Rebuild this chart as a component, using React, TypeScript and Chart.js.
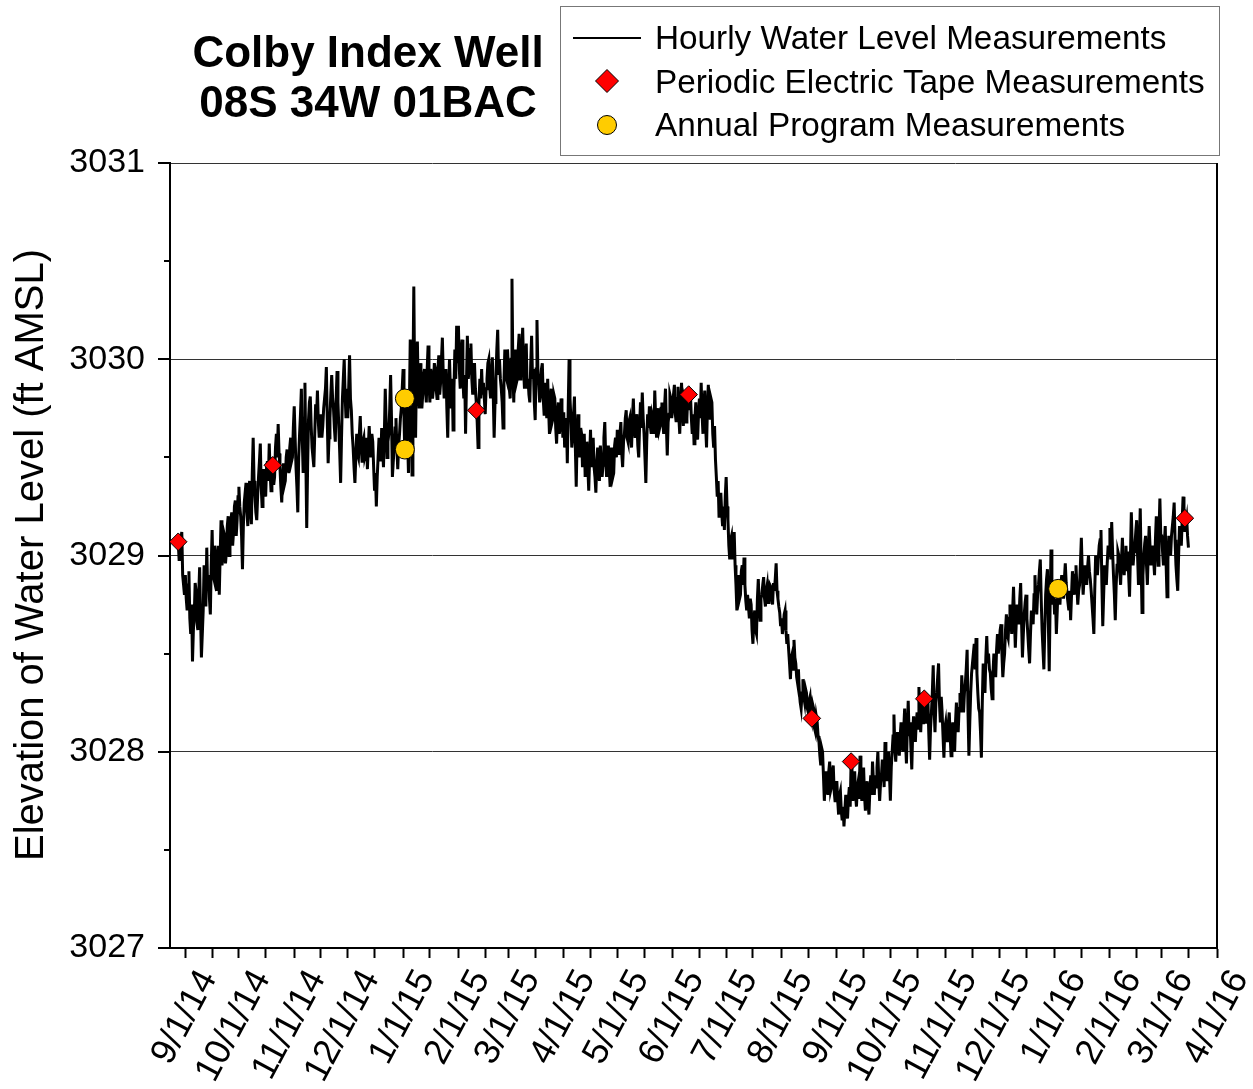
import React, { useEffect, useRef } from 'react';
import { Chart, registerables } from 'chart.js';

Chart.register(...registerables);

const FONT = "'Liberation Sans', Arial, Helvetica, sans-serif";
const DAY = 86400000;
const parseDate = (s: string) => {
  const [m, d, y] = s.split('/').map(Number);
  return Date.UTC(2000 + y, m - 1, d);
};

// Axis tick labels
const xTickLabels = [
  '9/1/14', '10/1/14', '11/1/14', '12/1/14', '1/1/15', '2/1/15', '3/1/15', '4/1/15', '5/1/15', '6/1/15',
  '7/1/15', '8/1/15', '9/1/15', '10/1/15', '11/1/15', '12/1/15', '1/1/16', '2/1/16', '3/1/16', '4/1/16',
];
const yTickLabels = [3027, 3028, 3029, 3030, 3031];
const xMinDate = '8/23/14';
const xMaxDate = '4/1/16';

// Periodic electric tape measurements
const etDates = ['8/28/14', '10/20/14', '2/11/15', '6/10/15', '8/18/15', '9/9/15', '10/20/15', '3/14/16'];
const etLevels = [3029.07, 3029.46, 3029.74, 3029.82, 3028.17, 3027.95, 3028.27, 3029.19];

// Annual program measurements
const annualDates = ['1/2/15', '1/2/15', '1/3/16'];
const annualLevels = [3029.8, 3029.54, 3028.83];

// Water level record, by month: midnight readings (...Am) and midday readings (...Pm)
const levelAug14Am = [3029.07, 3029.02, 3029.12, 3028.85];
const levelAug14Pm = [3028.98, 3029.08, 3028.9, 3028.8];
const levelSep14Am = [3028.9, 3028.72, 3028.92, 3028.6, 3028.46, 3028.7, 3028.82, 3028.62, 3028.94, 3028.48, 3028.72, 3028.85, 3029.04, 3028.9, 3028.7, 3029.13, 3028.88, 3029.0, 3028.92, 3028.8, 3029.18, 3028.98, 3029.1, 3029.02, 3029.2, 3029.1, 3029.22, 3029.12, 3029.28, 3029.18];
const levelSep14Pm = [3028.78, 3028.85, 3028.68, 3028.75, 3028.62, 3028.86, 3028.66, 3028.8, 3028.7, 3028.6, 3028.95, 3028.74, 3028.82, 3028.78, 3028.95, 3028.9, 3029.05, 3028.82, 3029.05, 3029.0, 3028.95, 3029.12, 3028.96, 3029.15, 3029.0, 3029.18, 3029.05, 3029.25, 3029.1, 3029.3];
const levelOct14Am = [3029.35, 3029.2, 3028.93, 3029.27, 3029.37, 3029.15, 3029.38, 3029.16, 3029.6, 3029.3, 3029.18, 3029.4, 3029.57, 3029.25, 3029.44, 3029.3, 3029.48, 3029.57, 3029.33, 3029.46, 3029.4, 3029.62, 3029.67, 3029.45, 3029.27, 3029.47, 3029.38, 3029.54, 3029.42, 3029.6, 3029.5];
const levelOct14Pm = [3029.25, 3029.1, 3029.15, 3029.32, 3029.22, 3029.3, 3029.24, 3029.42, 3029.38, 3029.22, 3029.3, 3029.48, 3029.35, 3029.38, 3029.35, 3029.45, 3029.38, 3029.42, 3029.5, 3029.36, 3029.55, 3029.5, 3029.52, 3029.35, 3029.4, 3029.36, 3029.5, 3029.45, 3029.55, 3029.48, 3029.65];
const levelNov14Am = [3029.76, 3029.45, 3029.22, 3029.62, 3029.85, 3029.42, 3029.88, 3029.14, 3029.69, 3029.81, 3029.55, 3029.45, 3029.77, 3029.84, 3029.6, 3029.72, 3029.66, 3029.8, 3029.96, 3029.47, 3029.7, 3029.92, 3029.75, 3029.58, 3029.94, 3029.65, 3029.37, 3029.8, 3030.0, 3029.7];
const levelNov14Pm = [3029.6, 3029.35, 3029.5, 3029.72, 3029.6, 3029.7, 3029.5, 3029.45, 3029.78, 3029.66, 3029.5, 3029.62, 3029.7, 3029.68, 3029.7, 3029.6, 3029.75, 3029.85, 3029.7, 3029.6, 3029.82, 3029.8, 3029.65, 3029.8, 3029.78, 3029.52, 3029.6, 3029.9, 3029.82, 3029.85];
const levelDec14Am = [3029.7, 3030.02, 3029.74, 3029.55, 3029.37, 3029.62, 3029.5, 3029.71, 3029.48, 3029.6, 3029.52, 3029.44, 3029.66, 3029.5, 3029.58, 3029.33, 3029.25, 3029.5, 3029.55, 3029.65, 3029.45, 3029.85, 3029.5, 3029.62, 3029.92, 3029.4, 3029.55, 3029.7, 3029.44, 3029.62, 3029.75];
const levelDec14Pm = [3029.85, 3029.8, 3029.62, 3029.45, 3029.5, 3029.52, 3029.62, 3029.56, 3029.58, 3029.5, 3029.6, 3029.55, 3029.56, 3029.62, 3029.45, 3029.42, 3029.4, 3029.6, 3029.48, 3029.55, 3029.62, 3029.68, 3029.58, 3029.75, 3029.7, 3029.48, 3029.65, 3029.55, 3029.56, 3029.7, 3029.85];
const levelJan15Am = [3029.95, 3029.5, 3029.8, 3029.42, 3030.1, 3029.41, 3030.37, 3029.6, 3030.09, 3029.75, 3029.9, 3029.82, 3029.95, 3029.78, 3030.07, 3029.78, 3029.92, 3029.85, 3029.95, 3029.8, 3030.02, 3029.88, 3030.11, 3029.8, 3029.95, 3029.6, 3030.0, 3029.75, 3029.64, 3030.05, 3030.17];
const levelJan15Pm = [3029.7, 3029.65, 3029.6, 3029.75, 3029.8, 3029.9, 3029.85, 3029.95, 3029.85, 3029.98, 3029.75, 3029.92, 3029.85, 3029.95, 3029.88, 3029.95, 3029.8, 3029.98, 3029.85, 3029.95, 3029.82, 3030.0, 3029.92, 3029.9, 3029.75, 3029.85, 3029.85, 3029.9, 3029.85, 3029.9, 3029.98];
const levelFeb15Am = [3030.17, 3029.85, 3030.1, 3029.8, 3029.62, 3030.12, 3029.95, 3030.08, 3029.82, 3029.98, 3029.78, 3029.55, 3029.9, 3029.95, 3029.88, 3029.72, 3029.9, 3030.0, 3029.8, 3030.01, 3029.6, 3029.9, 3030.15, 3030.0, 3029.85, 3029.65, 3030.05, 3029.9];
const levelFeb15Pm = [3029.95, 3030.02, 3029.9, 3029.92, 3029.88, 3029.9, 3030.05, 3029.9, 3029.95, 3029.85, 3029.68, 3029.78, 3029.8, 3029.82, 3029.8, 3029.85, 3029.98, 3029.86, 3029.92, 3029.82, 3029.78, 3030.05, 3029.92, 3029.9, 3029.78, 3029.88, 3029.92, 3030.05];
const levelMar15Am = [3029.95, 3029.8, 3030.41, 3029.78, 3030.05, 3029.9, 3030.13, 3029.95, 3030.16, 3029.85, 3030.08, 3029.9, 3029.78, 3030.12, 3029.95, 3029.69, 3030.2, 3029.88, 3029.82, 3029.98, 3029.72, 3029.78, 3029.9, 3029.62, 3029.85, 3029.7, 3029.8, 3029.57, 3029.78, 3029.65, 3029.75];
const levelMar15Pm = [3029.85, 3030.0, 3029.95, 3029.98, 3029.88, 3030.05, 3029.9, 3030.05, 3029.95, 3030.0, 3029.85, 3029.82, 3029.98, 3029.9, 3029.78, 3029.95, 3029.95, 3029.78, 3029.95, 3029.8, 3029.88, 3029.7, 3029.75, 3029.8, 3029.68, 3029.82, 3029.65, 3029.72, 3029.62, 3029.8, 3029.6];
const levelApr15Am = [3029.73, 3029.6, 3029.47, 3030.0, 3029.7, 3029.6, 3029.81, 3029.35, 3029.72, 3029.5, 3029.62, 3029.55, 3029.4, 3029.58, 3029.33, 3029.64, 3029.52, 3029.45, 3029.32, 3029.55, 3029.38, 3029.5, 3029.46, 3029.68, 3029.4, 3029.56, 3029.35, 3029.5, 3029.42, 3029.6];
const levelApr15Pm = [3029.55, 3029.7, 3029.75, 3029.8, 3029.55, 3029.72, 3029.55, 3029.6, 3029.55, 3029.65, 3029.45, 3029.62, 3029.52, 3029.45, 3029.5, 3029.45, 3029.6, 3029.4, 3029.48, 3029.42, 3029.56, 3029.4, 3029.6, 3029.5, 3029.52, 3029.44, 3029.55, 3029.4, 3029.56, 3029.5];
const levelMay15Am = [3029.64, 3029.52, 3029.68, 3029.45, 3029.62, 3029.74, 3029.58, 3029.7, 3029.55, 3029.8, 3029.6, 3029.68, 3029.5, 3029.78, 3029.83, 3029.62, 3029.37, 3029.72, 3029.76, 3029.62, 3029.7, 3029.84, 3029.6, 3029.75, 3029.66, 3029.78, 3029.62, 3029.85, 3029.51, 3029.72, 3029.8];
const levelMay15Pm = [3029.55, 3029.62, 3029.52, 3029.58, 3029.7, 3029.6, 3029.68, 3029.6, 3029.7, 3029.65, 3029.72, 3029.56, 3029.66, 3029.65, 3029.7, 3029.5, 3029.58, 3029.65, 3029.66, 3029.72, 3029.62, 3029.7, 3029.72, 3029.64, 3029.75, 3029.68, 3029.76, 3029.66, 3029.68, 3029.82, 3029.7];
const levelJun15Am = [3029.75, 3029.87, 3029.68, 3029.86, 3029.62, 3029.88, 3029.66, 3029.78, 3029.7, 3029.85, 3029.82, 3029.62, 3029.57, 3029.78, 3029.59, 3029.8, 3029.88, 3029.62, 3029.84, 3029.55, 3029.87, 3029.7, 3029.78, 3029.55, 3029.49, 3029.3, 3029.2, 3029.32, 3029.15, 3029.13];
const levelJun15Pm = [3029.82, 3029.72, 3029.8, 3029.7, 3029.78, 3029.74, 3029.8, 3029.68, 3029.82, 3029.74, 3029.7, 3029.72, 3029.7, 3029.66, 3029.72, 3029.7, 3029.72, 3029.76, 3029.66, 3029.75, 3029.74, 3029.8, 3029.62, 3029.66, 3029.4, 3029.38, 3029.28, 3029.22, 3029.25, 3029.3];
const levelJul15Am = [3029.4, 3029.18, 3028.98, 3029.1, 3029.05, 3028.95, 3028.72, 3028.9, 3028.8, 3028.95, 3028.99, 3028.77, 3028.8, 3028.68, 3028.75, 3028.55, 3028.72, 3028.6, 3028.88, 3028.67, 3028.8, 3028.89, 3028.74, 3028.85, 3028.78, 3028.84, 3028.75, 3028.82, 3028.96, 3028.78, 3028.71];
const levelJul15Pm = [3029.25, 3029.05, 3029.08, 3028.98, 3029.12, 3028.85, 3028.85, 3028.78, 3028.92, 3028.85, 3028.85, 3028.72, 3028.74, 3028.78, 3028.62, 3028.68, 3028.62, 3028.78, 3028.75, 3028.78, 3028.85, 3028.78, 3028.82, 3028.76, 3028.85, 3028.78, 3028.86, 3028.88, 3028.82, 3028.74, 3028.64];
const levelAug15Am = [3028.68, 3028.64, 3028.72, 3028.55, 3028.52, 3028.37, 3028.5, 3028.57, 3028.45, 3028.35, 3028.3, 3028.22, 3028.37, 3028.25, 3028.3, 3028.2, 3028.28, 3028.17, 3028.22, 3028.1, 3028.15, 3028.05, 3027.93, 3028.0, 3027.75, 3027.9, 3027.78, 3027.95, 3027.82, 3027.93, 3027.75];
const levelAug15Pm = [3028.6, 3028.7, 3028.62, 3028.6, 3028.45, 3028.48, 3028.42, 3028.48, 3028.38, 3028.42, 3028.25, 3028.3, 3028.28, 3028.32, 3028.22, 3028.26, 3028.2, 3028.24, 3028.12, 3028.18, 3028.08, 3027.98, 3028.02, 3027.88, 3027.85, 3027.82, 3027.9, 3027.8, 3027.9, 3027.8, 3027.82];
const levelSep15Am = [3027.85, 3027.68, 3027.8, 3027.65, 3027.62, 3027.78, 3027.66, 3027.82, 3027.95, 3027.75, 3027.9, 3027.72, 3027.85, 3027.98, 3027.75, 3027.92, 3027.7, 3027.85, 3027.68, 3027.88, 3027.95, 3027.78, 3027.82, 3028.0, 3027.75, 3027.88, 3027.92, 3028.05, 3027.85, 3028.0];
const levelSep15Pm = [3027.75, 3027.78, 3027.7, 3027.72, 3027.7, 3027.7, 3027.76, 3027.72, 3027.82, 3027.85, 3027.78, 3027.82, 3027.76, 3027.85, 3027.85, 3027.78, 3027.8, 3027.74, 3027.8, 3027.78, 3027.85, 3027.88, 3027.92, 3027.85, 3027.84, 3027.96, 3027.82, 3027.92, 3027.95, 3027.88];
const levelOct15Am = [3027.75, 3028.0, 3028.19, 3027.95, 3028.1, 3027.98, 3028.15, 3028.0, 3028.22, 3027.94, 3028.26, 3028.15, 3027.91, 3028.18, 3028.05, 3028.2, 3028.33, 3028.1, 3028.25, 3028.3, 3028.15, 3028.28, 3027.96, 3028.2, 3028.44, 3028.1, 3028.3, 3028.45, 3028.15, 3028.2, 3027.97];
const levelOct15Pm = [3027.92, 3028.08, 3028.02, 3028.05, 3028.02, 3028.08, 3028.05, 3028.12, 3028.05, 3028.12, 3028.08, 3028.02, 3028.1, 3028.1, 3028.15, 3028.12, 3028.2, 3028.22, 3028.14, 3028.2, 3028.25, 3028.1, 3028.12, 3028.3, 3028.22, 3028.25, 3028.38, 3028.25, 3028.28, 3028.08, 3028.12];
const levelNov15Am = [3028.15, 3028.05, 3028.2, 3027.98, 3028.15, 3028.0, 3028.25, 3028.1, 3028.3, 3028.39, 3028.2, 3028.35, 3028.52, 3027.98, 3028.3, 3028.45, 3028.55, 3028.58, 3028.3, 3028.2, 3027.97, 3028.45, 3028.3, 3028.59, 3028.5, 3028.4, 3028.27, 3028.5, 3028.38, 3028.6];
const levelNov15Pm = [3028.08, 3028.15, 3028.08, 3028.1, 3028.06, 3028.15, 3028.16, 3028.22, 3028.2, 3028.28, 3028.3, 3028.42, 3028.2, 3028.15, 3028.4, 3028.5, 3028.42, 3028.4, 3028.22, 3028.1, 3028.25, 3028.36, 3028.48, 3028.45, 3028.42, 3028.32, 3028.4, 3028.42, 3028.52, 3028.5];
const levelDec15Am = [3028.55, 3028.65, 3028.38, 3028.5, 3028.7, 3028.58, 3028.75, 3028.6, 3028.84, 3028.53, 3028.75, 3028.65, 3028.86, 3028.48, 3028.7, 3028.8, 3028.6, 3028.45, 3028.72, 3028.65, 3028.9, 3028.7, 3028.85, 3028.98, 3028.62, 3028.42, 3028.8, 3028.93, 3028.41, 3029.03, 3028.75];
const levelDec15Pm = [3028.62, 3028.5, 3028.45, 3028.62, 3028.6, 3028.68, 3028.66, 3028.72, 3028.68, 3028.65, 3028.68, 3028.78, 3028.66, 3028.6, 3028.76, 3028.68, 3028.52, 3028.6, 3028.68, 3028.8, 3028.78, 3028.8, 3028.92, 3028.78, 3028.52, 3028.62, 3028.88, 3028.66, 3028.75, 3028.85, 3028.82];
const levelJan16Am = [3028.7, 3028.6, 3028.85, 3028.75, 3028.9, 3028.78, 3028.96, 3028.8, 3028.72, 3028.67, 3028.92, 3028.8, 3028.95, 3028.75, 3028.85, 3029.09, 3028.8, 3028.95, 3028.85, 3029.0, 3028.88, 3028.75, 3028.6, 3029.0, 3028.9, 3029.05, 3029.13, 3028.64, 3028.95, 3028.85, 3029.05];
const levelJan16Pm = [3028.78, 3028.72, 3028.8, 3028.84, 3028.82, 3028.88, 3028.86, 3028.76, 3028.82, 3028.8, 3028.85, 3028.9, 3028.84, 3028.82, 3028.96, 3028.92, 3028.88, 3028.9, 3028.94, 3028.92, 3028.82, 3028.68, 3028.82, 3028.94, 3028.98, 3029.08, 3028.86, 3028.8, 3028.9, 3028.96, 3029.0];
const levelFeb16Am = [3029.14, 3029.17, 3028.9, 3028.67, 3028.95, 3029.0, 3028.85, 3029.09, 3028.9, 3029.05, 3029.02, 3028.79, 3029.22, 3028.95, 3029.05, 3029.18, 3028.85, 3029.24, 3028.71, 3029.0, 3029.1, 3028.85, 3029.15, 3028.95, 3029.05, 3028.9, 3029.2, 3028.95, 3029.29];
const levelFeb16Pm = [3028.98, 3029.02, 3028.8, 3028.85, 3029.02, 3028.92, 3028.98, 3028.96, 3029.0, 3028.92, 3028.9, 3029.0, 3029.05, 3029.02, 3029.12, 3029.0, 3029.05, 3028.95, 3028.9, 3029.06, 3028.95, 3029.02, 3029.04, 3029.0, 3028.98, 3029.08, 3029.05, 3029.12, 3029.1];
const levelMar16Am = [3029.1, 3028.95, 3029.15, 3028.79, 3029.1, 3029.0, 3029.15, 3029.27, 3028.95, 3028.82, 3029.15, 3029.05, 3029.3, 3029.12, 3029.19, 3029.04];
const levelMar16Pm = [3029.02, 3029.06, 3028.95, 3028.98, 3029.04, 3029.1, 3029.2, 3029.08, 3028.88, 3029.0, 3029.1, 3029.18, 3029.2, 3029.16, 3029.1];

const levelSegments: [string, number[], number[]][] = [
  ['8/28/14', levelAug14Am, levelAug14Pm], ['9/1/14', levelSep14Am, levelSep14Pm],
  ['10/1/14', levelOct14Am, levelOct14Pm], ['11/1/14', levelNov14Am, levelNov14Pm],
  ['12/1/14', levelDec14Am, levelDec14Pm], ['1/1/15', levelJan15Am, levelJan15Pm],
  ['2/1/15', levelFeb15Am, levelFeb15Pm], ['3/1/15', levelMar15Am, levelMar15Pm],
  ['4/1/15', levelApr15Am, levelApr15Pm], ['5/1/15', levelMay15Am, levelMay15Pm],
  ['6/1/15', levelJun15Am, levelJun15Pm], ['7/1/15', levelJul15Am, levelJul15Pm],
  ['8/1/15', levelAug15Am, levelAug15Pm], ['9/1/15', levelSep15Am, levelSep15Pm],
  ['10/1/15', levelOct15Am, levelOct15Pm], ['11/1/15', levelNov15Am, levelNov15Pm],
  ['12/1/15', levelDec15Am, levelDec15Pm], ['1/1/16', levelJan16Am, levelJan16Pm],
  ['2/1/16', levelFeb16Am, levelFeb16Pm], ['3/1/16', levelMar16Am, levelMar16Pm],
];

const TITLE_1 = 'Colby Index Well';
const TITLE_2 = '08S 34W 01BAC';
const Y_TITLE = 'Elevation of Water Level (ft AMSL)';
const LEGEND = ['Hourly Water Level Measurements', 'Periodic Electric Tape Measurements', 'Annual Program Measurements'];

const RED = '#ff0000';
const YELLOW = '#ffcc00';

const levelPoints: { x: number; y: number }[] = [];
levelSegments.forEach(([start, am, pm]) => {
  const t0 = parseDate(start);
  am.forEach((v, i) => {
    levelPoints.push({ x: t0 + i * DAY, y: v });
    if (pm[i] !== undefined) levelPoints.push({ x: t0 + i * DAY + DAY / 2, y: pm[i] });
  });
});
const etPoints = etDates.map((d, i) => ({ x: parseDate(d), y: etLevels[i] }));
const annualPoints = annualDates.map((d, i) => ({ x: parseDate(d), y: annualLevels[i] }));

const monthTicks = xTickLabels.map(parseDate);
const labelByValue = new Map<number, string>(xTickLabels.map((l) => [parseDate(l), l]));
const midTicks = xTickLabels.slice(0, -1).map((l) => {
  const [m, , y] = l.split('/').map(Number);
  return Date.UTC(2000 + y, m - 1, 16);
});
const allXTicks = [...monthTicks, ...midTicks].sort((a, b) => a - b);

const decorPlugin = {
  id: 'decor',
  afterDraw(chart: any) {
    const { ctx, chartArea: a, scales } = chart;
    const ys = scales.y;
    ctx.save();
    // y-axis tick marks (major + minor)
    ctx.strokeStyle = '#000';
    ctx.lineWidth = 2;
    for (let k = 0; k <= 8; k++) {
      const v = 3027 + k * 0.5;
      const py = Math.round(ys.getPixelForValue(v));
      const len = k % 2 === 0 ? 12 : 6;
      ctx.beginPath();
      ctx.moveTo(a.left - len, py);
      ctx.lineTo(a.left, py);
      ctx.stroke();
    }
    // right frame line
    ctx.beginPath();
    ctx.moveTo(a.right, a.top);
    ctx.lineTo(a.right, a.bottom + 1);
    ctx.stroke();

    // title
    ctx.fillStyle = '#000';
    ctx.font = `bold 44px ${FONT}`;
    ctx.textAlign = 'center';
    ctx.textBaseline = 'alphabetic';
    ctx.fillText(TITLE_1, 368, 67);
    ctx.fillText(TITLE_2, 368, 117);

    // y-axis title
    ctx.save();
    ctx.translate(43, 555);
    ctx.rotate(-Math.PI / 2);
    ctx.font = `40px ${FONT}`;
    ctx.fillText(Y_TITLE, 0, 0);
    ctx.restore();

    // legend box
    ctx.strokeStyle = '#777';
    ctx.lineWidth = 1;
    ctx.strokeRect(560.5, 6.5, 659, 149);
    ctx.strokeStyle = '#000';
    ctx.lineWidth = 2;
    ctx.beginPath();
    ctx.moveTo(573, 38);
    ctx.lineTo(641, 38);
    ctx.stroke();
    // diamond
    ctx.lineWidth = 1;
    ctx.fillStyle = RED;
    ctx.beginPath();
    ctx.moveTo(607 - 11.5, 81);
    ctx.lineTo(607, 81 - 11.5);
    ctx.lineTo(607 + 11.5, 81);
    ctx.lineTo(607, 81 + 11.5);
    ctx.closePath();
    ctx.fill();
    ctx.stroke();
    // circle
    ctx.fillStyle = YELLOW;
    ctx.beginPath();
    ctx.arc(607, 125, 9.5, 0, Math.PI * 2);
    ctx.fill();
    ctx.stroke();
    ctx.fillStyle = '#000';
    ctx.font = `33.3px ${FONT}`;
    ctx.textAlign = 'left';
    ctx.fillText(LEGEND[0], 655, 49);
    ctx.fillText(LEGEND[1], 655, 93);
    ctx.fillText(LEGEND[2], 655, 136);
    ctx.restore();
  },
};

export default function App() {
  const ref = useRef<HTMLCanvasElement>(null);
  useEffect(() => {
    document.body.style.margin = '0';
    const chart = new Chart(ref.current as HTMLCanvasElement, {
      type: 'scatter',
      data: {
        datasets: [
          {
            label: LEGEND[1],
            data: etPoints,
            pointStyle: 'rectRot',
            pointRadius: 8.8,
            backgroundColor: RED,
            borderColor: '#000',
            borderWidth: 1,
            order: 0,
          },
          {
            label: LEGEND[2],
            data: annualPoints,
            pointStyle: 'circle',
            pointRadius: 9.5,
            backgroundColor: YELLOW,
            borderColor: '#000',
            borderWidth: 1,
            order: 1,
          },
          {
            label: LEGEND[0],
            data: levelPoints,
            showLine: true,
            pointRadius: 0,
            borderColor: '#000',
            borderWidth: 3,
            tension: 0,
            order: 2,
          } as any,
        ],
      },
      options: {
        responsive: false,
        animation: false,
        layout: { padding: { top: 163, right: 36, left: 0, bottom: 0 } },
        plugins: { legend: { display: false }, tooltip: { enabled: false }, title: { display: false } },
        scales: {
          x: {
            type: 'linear',
            min: parseDate(xMinDate) + DAY * 0.4,
            max: parseDate(xMaxDate),
            afterBuildTicks: (s: any) => {
              s.ticks = allXTicks.map((v) => ({ value: v }));
            },
            afterFit: (s: any) => {
              s.height = 141;
              s.paddingLeft = 0;
              s.paddingRight = 0;
            },
            ticks: {
              autoSkip: false,
              minRotation: 62,
              maxRotation: 62,
              padding: 5,
              labelOffset: 23,
              color: '#000',
              font: { family: FONT, size: 36 },
              callback: (v: any) => labelByValue.get(Number(v)) ?? '',
            },
            grid: { drawOnChartArea: false, drawTicks: true, tickLength: 10, tickColor: '#000', tickWidth: 2 },
            border: { display: true, color: '#000', width: 2 },
          },
          y: {
            min: yTickLabels[0],
            max: yTickLabels[yTickLabels.length - 1],
            afterBuildTicks: (s: any) => {
              s.ticks = yTickLabels.map((v) => ({ value: v }));
            },
            afterFit: (s: any) => {
              s.width = 170;
              s.paddingTop = 0;
              s.paddingBottom = 0;
            },
            ticks: {
              padding: 25,
              color: '#000',
              font: { family: FONT, size: 34 },
              callback: (v: any) => String(v),
            },
            grid: {
              drawTicks: false,
              lineWidth: 1,
              color: (c: any) => (c.tick && c.tick.value === yTickLabels[0] ? 'rgba(0,0,0,0)' : '#333'),
            },
            border: { display: true, color: '#000', width: 2 },
          },
        },
      },
      plugins: [decorPlugin],
    });
    return () => chart.destroy();
  }, []);
  return (
    <canvas
      ref={ref}
      width={1253}
      height={1089}
      style={{ display: 'block', width: 1253, height: 1089, background: '#fff' }}
    />
  );
}
